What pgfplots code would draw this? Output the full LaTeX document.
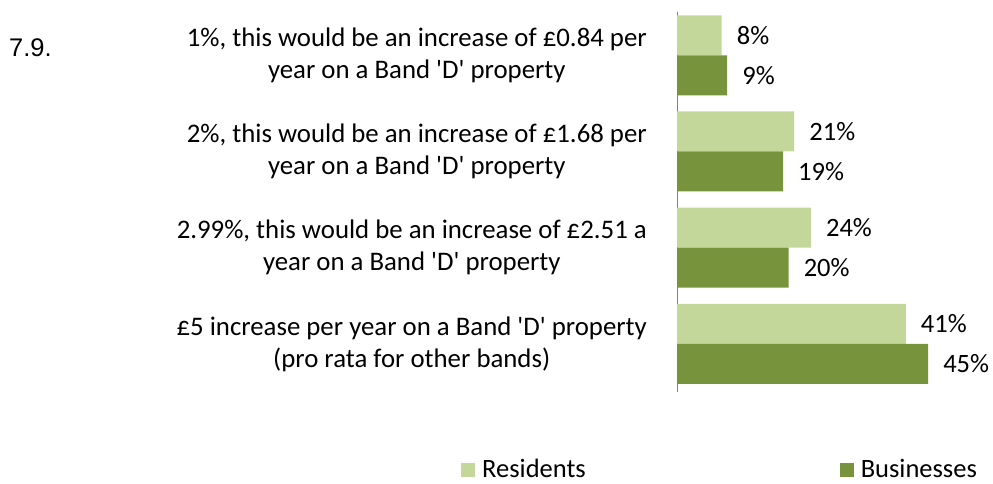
\documentclass[border=0pt]{standalone}
\usepackage{fontspec}
\setmainfont{Carlito}
\newfontfamily\arialfont{Liberation Sans}
\usepackage{pgfplots}
\pgfplotsset{compat=1.18}
\definecolor{resid}{HTML}{C4D79B}
\definecolor{busin}{HTML}{77933C}
\newcommand{\q}{\textquotesingle}
\begin{document}
\fontsize{26.5}{32}\selectfont
\begin{tikzpicture}
\path[use as bounding box] (0,0) rectangle (993pt,484pt);
\node[font=\arialfont\fontsize{25.5}{30}\selectfont, anchor=west, inner sep=0pt] at (9pt,436pt) {7.9.};
\begin{axis}[
  at={(677pt,92pt)}, anchor=south west,
  scale only axis, width=279pt, height=380pt,
  xbar=0pt, bar width=40pt,
  xmin=0, xmax=50, ymin=-0.45, ymax=3.5, y dir=reverse,
  hide x axis, axis y line*=left,
  y axis line style={-, draw=black!50},
  ytick={0,1,2,3}, major tick length=0pt,
  yticklabels={
    {1\%, this would be an increase of £0.84 per\\year on a Band \q D\q{} property},
    {2\%, this would be an increase of £1.68 per\\year on a Band \q D\q{} property},
    {2.99\%, this would be an increase of £2.51 a\\year on a Band \q D\q{} property},
    {£5 increase per year on a Band \q D\q{} property\\(pro rata for other bands)}},
  yticklabel style={align=center, inner sep=0pt, xshift=-30pt,
    font=\fontsize{26.8}{32}\selectfont},
  /pgf/number format/assume math mode=true,
  nodes near coords={\pgfmathprintnumber{\pgfplotspointmeta}\%},
  every node near coord/.append style={anchor=west, inner sep=0pt, xshift=15pt,
    font=\fontsize{26.5}{30}\selectfont, black},
  legend columns=2,
  legend style={at={(-0.785,-0.205)}, anchor=west, draw=none,
    font=\fontsize{26.5}{30}\selectfont,
    /tikz/every even column/.append style={column sep=252pt}},
  legend image code/.code={\fill[#1] (0pt,-7pt) rectangle (14pt,7pt); \path (19pt,0pt);},
]
\addplot[fill=resid, draw=none, bar shift=20pt] coordinates {(8,0) (21,1) (24,2) (41,3)};
\addplot[fill=busin, draw=none, bar shift=-20pt] coordinates {(9,0) (19,1) (20,2) (45,3)};
\legend{Residents, Businesses}
\end{axis}
\end{tikzpicture}
\end{document}
